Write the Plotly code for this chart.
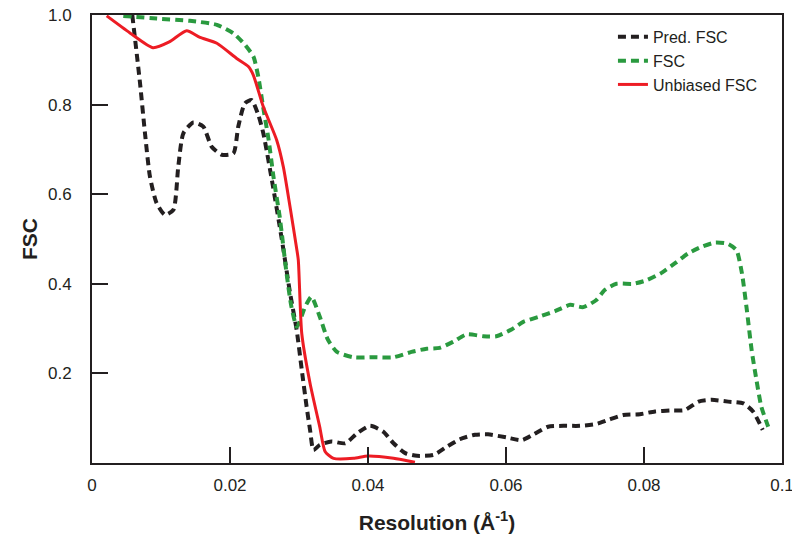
import plotly.graph_objects as go

# Pred. FSC (black dashed)
pred_x = [0.00584, 0.00696, 0.00768, 0.0084, 0.00937, 0.01058, 0.01179, 0.0125, 0.01324, 0.01469,
          0.01613, 0.01734, 0.0188, 0.02048, 0.0212, 0.02217, 0.02314, 0.0241, 0.02483, 0.0262,
          0.0275, 0.0287, 0.02966, 0.0304, 0.0311, 0.0316, 0.0321, 0.0330, 0.0347, 0.0367,
          0.0384, 0.0403, 0.0422, 0.0437, 0.0454, 0.0471, 0.0495, 0.0514, 0.0533, 0.0555,
          0.0574, 0.0601, 0.0623, 0.0640, 0.0661, 0.0683, 0.0707, 0.0731, 0.0748, 0.0770,
          0.0794, 0.0816, 0.0838, 0.0859, 0.0879, 0.0898, 0.0922, 0.0944, 0.0958, 0.0972]
pred_y = [1.0, 0.848, 0.736, 0.639, 0.580, 0.554, 0.565, 0.661, 0.736, 0.760,
          0.751, 0.706, 0.688, 0.691, 0.751, 0.803, 0.810, 0.777, 0.736, 0.620,
          0.500, 0.380, 0.297, 0.208, 0.126, 0.074, 0.029, 0.040, 0.048, 0.044,
          0.066, 0.083, 0.070, 0.044, 0.022, 0.016, 0.018, 0.036, 0.053, 0.063,
          0.064, 0.057, 0.051, 0.064, 0.081, 0.083, 0.083, 0.087, 0.096, 0.107,
          0.109, 0.115, 0.117, 0.118, 0.137, 0.141, 0.137, 0.133, 0.115, 0.074]

# FSC (green dashed)
fsc_x = [0.00454, 0.00937, 0.0142, 0.0181, 0.0205, 0.0222, 0.0234, 0.0241, 0.0248, 0.0256,
         0.0263, 0.0272, 0.0275, 0.0282, 0.0289, 0.0297, 0.0309, 0.0318, 0.0330, 0.0342,
         0.0355, 0.0379, 0.0408, 0.0437, 0.0463, 0.0485, 0.0504, 0.0524, 0.0543, 0.0567,
         0.0586, 0.0608, 0.0625, 0.0649, 0.0671, 0.0693, 0.0712, 0.0731, 0.0743, 0.0760,
         0.0784, 0.0804, 0.0826, 0.0845, 0.0864, 0.0884, 0.0903, 0.0922, 0.0934, 0.0942,
         0.0949, 0.0956, 0.0963, 0.0970, 0.0980]
fsc_y = [0.998, 0.992, 0.987, 0.978, 0.959, 0.933, 0.907, 0.862, 0.795, 0.721,
         0.639, 0.550, 0.513, 0.423, 0.349, 0.304, 0.349, 0.371, 0.327, 0.275,
         0.248, 0.236, 0.236, 0.236, 0.248, 0.255, 0.257, 0.271, 0.287, 0.283,
         0.283, 0.298, 0.315, 0.327, 0.339, 0.353, 0.348, 0.364, 0.386, 0.400,
         0.400, 0.408, 0.425, 0.446, 0.468, 0.483, 0.492, 0.489, 0.475, 0.423,
         0.342, 0.252, 0.185, 0.126, 0.081]

# Unbiased FSC (red solid)
unb_x = [0.00213, 0.0055, 0.00884, 0.0112, 0.01372, 0.01565, 0.0181, 0.02097, 0.02266, 0.02338,
         0.02483, 0.02676, 0.02773, 0.0287, 0.02966, 0.0299, 0.0304, 0.0316, 0.0330, 0.0338,
         0.0350, 0.0379, 0.0400, 0.0437, 0.0468]
unb_y = [0.998, 0.960, 0.927, 0.940, 0.965, 0.950, 0.937, 0.903, 0.885, 0.866,
         0.795, 0.721, 0.661, 0.572, 0.479, 0.453, 0.289, 0.178, 0.081, 0.025,
         0.0105, 0.0105, 0.0156, 0.0105, 0.0015]

x_ticks = [0, 0.02, 0.04, 0.06, 0.08, 0.1]
x_tick_labels = ["0", "0.02", "0.04", "0.06", "0.08", "0.1"]
y_ticks = [0.2, 0.4, 0.6, 0.8, 1.0]
y_tick_labels = ["0.2", "0.4", "0.6", "0.8", "1.0"]

FONT = "Liberation Sans, Arial, sans-serif"

fig = go.Figure()
fig.add_trace(go.Scatter(x=pred_x, y=pred_y, mode="lines", name="Pred. FSC",
                         line=dict(color="#231f20", width=4, dash="8px,5px", shape="spline", smoothing=0.6)))
fig.add_trace(go.Scatter(x=fsc_x, y=fsc_y, mode="lines", name="FSC",
                         line=dict(color="#2a9a3f", width=4, dash="8px,5px", shape="spline", smoothing=0.6)))
fig.add_trace(go.Scatter(x=unb_x, y=unb_y, mode="lines", name="Unbiased FSC",
                         line=dict(color="#ed1c24", width=3, shape="spline", smoothing=0.6)))

# the page body adds an 8px margin, so the figure is 16px smaller than the window
fig.update_layout(
    width=784, height=527,
    margin=dict(l=84, r=10, t=7, b=72, autoexpand=False),
    plot_bgcolor="white", paper_bgcolor="white",
    font=dict(family=FONT, size=17, color="#231f20"),
    showlegend=True,
    legend=dict(x=0.755, y=0.989, xanchor="left", yanchor="top",
                bgcolor="rgba(0,0,0,0)", font=dict(size=16, family=FONT),
                tracegroupgap=0),
    xaxis=dict(range=[0, 0.1], tickvals=x_ticks, ticktext=x_tick_labels,
               ticks="inside", ticklen=16, tickwidth=2, tickcolor="#231f20",
               showline=True, linecolor="#231f20", linewidth=2, mirror=True,
               showgrid=False, zeroline=False, automargin=False, ticklabelstandoff=6,
               ticklabeloverflow="allow",
               title=dict(text="<b>Resolution (Å<sup>-1</sup>)</b>", font=dict(size=21), standoff=21)),
    yaxis=dict(range=[0, 1], tickvals=y_ticks, ticktext=y_tick_labels,
               ticks="inside", ticklen=16, tickwidth=2, tickcolor="#231f20",
               showline=True, linecolor="#231f20", linewidth=2, mirror=True,
               showgrid=False, zeroline=False, automargin=False, ticklabelstandoff=15,
               ticklabeloverflow="allow",
               title=dict(text="<b>FSC</b>", font=dict(size=21), standoff=5)),
)

fig.write_html("out.html")
